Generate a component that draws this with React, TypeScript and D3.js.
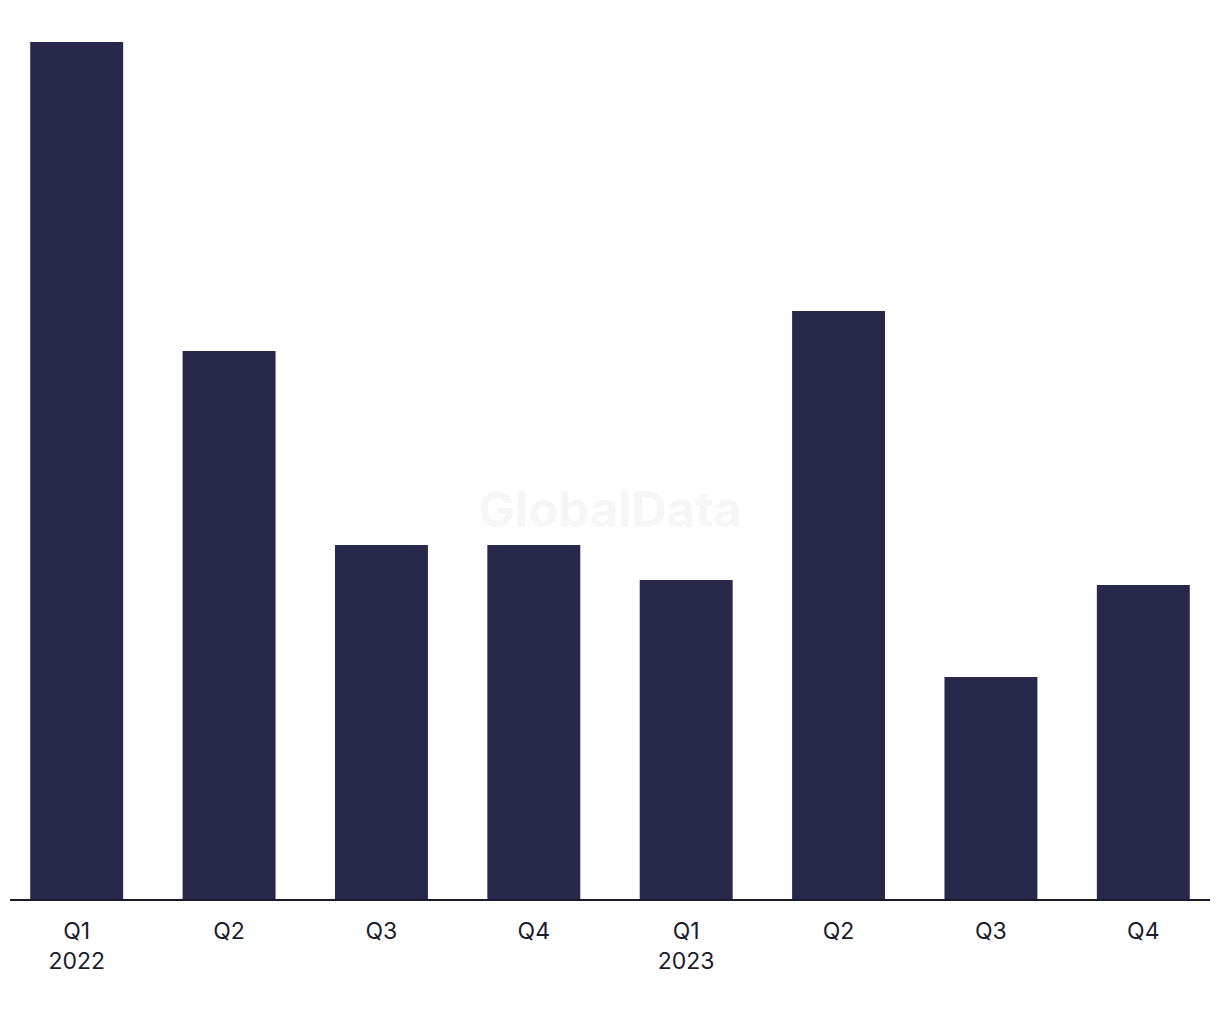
import React from "react";
import * as d3 from "d3";

const quarters = ["Q1", "Q2", "Q3", "Q4", "Q1", "Q2", "Q3", "Q4"];
const years = ["2022", "", "", "", "2023", "", "", ""];
const values = [85.8, 54.9, 35.5, 35.5, 32.0, 58.9, 22.3, 31.5];

const W = 1220;
const H = 1020;
const baseY = 900;
const topY = 42;

export default function App() {
  const idx = values.map((_, i) => i);
  const x = d3.scaleBand<number>().domain(idx).range([0.5, W - 0.5]).paddingInner(0.39).paddingOuter(0.195);
  const y = d3.scaleLinear().domain([0, d3.max(values) as number]).range([baseY, topY]);
  return (
    <svg width={W} height={H} style={{ position: "absolute", left: 0, top: 0, background: "#fff" }}>
      <text x={610} y={527} textAnchor="middle" fontFamily="Inter, Liberation Sans, Arial, sans-serif" fontWeight="bold" fontSize={49} fill="#f6f6f6">GlobalData</text>
      {values.map((v, i) => (
        <rect key={i} x={x(i)} y={y(v)} width={x.bandwidth()} height={baseY - y(v)} fill="#28284a" />
      ))}
      <line x1={10} x2={1210} y1={baseY} y2={baseY} stroke="#1a1a2e" strokeWidth={2} />
      {quarters.map((q, i) => (
        <g key={i} fontFamily="Inter, Liberation Sans, Arial, sans-serif" fontSize={23} fill="#1c1c2c" textAnchor="middle">
          <text x={(x(i) as number) + x.bandwidth() / 2} y={939}>{q}</text>
          {years[i] && <text x={(x(i) as number) + x.bandwidth() / 2} y={969}>{years[i]}</text>}
        </g>
      ))}
    </svg>
  );
}
